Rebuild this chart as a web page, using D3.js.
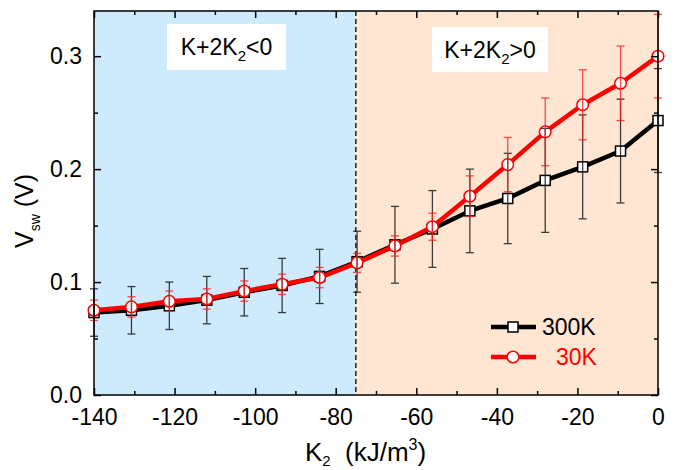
<!DOCTYPE html>
<html><head><meta charset="utf-8">
<script src="https://cdn.jsdelivr.net/npm/d3@7"></script>
<style>body{margin:0;background:#fff}svg{display:block;font-family:"Liberation Sans",Arial,sans-serif}</style>
</head><body>
<svg id="c" width="679" height="470"></svg>
<script>
const k2 = [-140, -130.7, -121.3, -112, -102.7, -93.3, -84, -74.7, -65.3, -56, -46.7, -37.3, -28, -18.7, -9.3, 0];
const v300 = [0.073, 0.075, 0.079, 0.084, 0.091, 0.097, 0.105, 0.118, 0.133, 0.147, 0.163, 0.174, 0.190, 0.202, 0.216, 0.243];
const e300 = [0.021, 0.021, 0.021, 0.021, 0.021, 0.024, 0.024, 0.027, 0.034, 0.034, 0.037, 0.040, 0.046, 0.046, 0.046, 0.046];
const v30 = [0.075, 0.078, 0.083, 0.085, 0.092, 0.098, 0.104, 0.117, 0.132, 0.149, 0.176, 0.204, 0.233, 0.257, 0.276, 0.300];
const e30 = [0.009, 0.009, 0.009, 0.009, 0.009, 0.009, 0.009, 0.0085, 0.009, 0.012, 0.018, 0.024, 0.030, 0.031, 0.033, 0.037];
const boundary = -75;
const xTicks = [-140, -120, -100, -80, -60, -40, -20, 0];
const xMinor = [-130, -110, -90, -70, -50, -30, -10];
const yTicks = [0, 0.1, 0.2, 0.3];
const yMinor = [0.05, 0.15, 0.25];
const seriesNames = ["300K", "30K"];

const svg = d3.select("#c");
const L = 94, R = 658, T = 11, B = 395;
const x = d3.scaleLinear().domain([-140, 0]).range([L, R]);
const y = d3.scaleLinear().domain([0, 0.34]).range([B, T]);

// backgrounds
svg.append("rect").attr("x", x(-140)).attr("y", T).attr("width", x(boundary) - x(-140)).attr("height", B - T).attr("fill", "#cdebfd");
svg.append("rect").attr("x", x(boundary)).attr("y", T).attr("width", x(0) - x(boundary)).attr("height", B - T).attr("fill", "#fee6d3");
svg.append("line").attr("x1", x(boundary)).attr("x2", x(boundary)).attr("y1", T).attr("y2", B)
  .attr("stroke", "#000").attr("stroke-width", 1.3).attr("stroke-dasharray", "5,3");

// region labels
function regionLabel(x0, y0, w, h, sign) {
  svg.append("rect").attr("x", x0).attr("y", y0).attr("width", w).attr("height", h).attr("fill", "#fff");
  const t = svg.append("text").attr("x", x0 + w / 2).attr("y", y0 + h / 2 + 8).attr("text-anchor", "middle")
    .attr("font-size", 23).attr("fill", "#000");
  t.append("tspan").text("K+2K");
  t.append("tspan").attr("font-size", 15).attr("dy", 6).text("2");
  t.append("tspan").attr("dy", -6).text(sign + "0");
}
regionLabel(167, 24, 119, 46, "<");
regionLabel(432, 27, 116, 45, ">");

// lines & markers
const line = d3.line().x(d => x(d[0])).y(d => y(d[1]));
const d300 = k2.map((k, i) => [k, v300[i], e300[i]]);
const d30 = k2.map((k, i) => [k, v30[i], e30[i]]);

svg.append("path").datum(d300).attr("d", line).attr("fill", "none").attr("stroke", "#000").attr("stroke-width", 4.5).attr("stroke-linejoin", "round");
svg.selectAll(".sq").data(d300).enter().append("rect")
  .attr("x", d => x(d[0]) - 5).attr("y", d => y(d[1]) - 5).attr("width", 10).attr("height", 10)
  .attr("fill", "#fff").attr("stroke", "#000").attr("stroke-width", 1.5);
svg.append("path").datum(d30).attr("d", line).attr("fill", "none").attr("stroke", "#ff0000").attr("stroke-width", 4.5).attr("stroke-linejoin", "round");
svg.selectAll(".ci").data(d30).enter().append("circle")
  .attr("cx", d => x(d[0])).attr("cy", d => y(d[1])).attr("r", 5.8)
  .attr("fill", "#fff").attr("stroke", "#ff0000").attr("stroke-width", 1.5);

// error bars
function errBars(data, color, op) {
  const g = svg.append("g").attr("stroke", color).attr("stroke-width", 1.3).attr("opacity", op);
  data.forEach(d => {
    const cx = x(d[0]), y1 = y(d[1] + d[2]), y2 = y(d[1] - d[2]);
    g.append("line").attr("x1", cx).attr("x2", cx).attr("y1", y1).attr("y2", y2);
    g.append("line").attr("x1", cx - 4).attr("x2", cx + 4).attr("y1", y1).attr("y2", y1);
    g.append("line").attr("x1", cx - 4).attr("x2", cx + 4).attr("y1", y2).attr("y2", y2);
  });
}
errBars(d300, "#111", 0.8);
errBars(d30, "#ff2020", 0.8);

// frame & ticks
svg.append("rect").attr("x", L).attr("y", T).attr("width", R - L).attr("height", B - T)
  .attr("fill", "none").attr("stroke", "#000").attr("stroke-width", 1.5);
const fmtX = d => d3.format("d")(d).replace("\u2212", "-");
svg.append("g").attr("transform", `translate(0,${B})`).call(d3.axisBottom(x).tickValues(xTicks).tickSizeInner(-7).tickSizeOuter(0).tickPadding(14).tickFormat(fmtX));
svg.append("g").attr("transform", `translate(0,${T})`).call(d3.axisTop(x).tickValues(xTicks).tickSizeInner(-7).tickSizeOuter(0).tickFormat(""));
svg.append("g").attr("transform", `translate(0,${B})`).call(d3.axisBottom(x).tickValues(xMinor).tickSizeInner(-4).tickSizeOuter(0).tickFormat(""));
svg.append("g").attr("transform", `translate(0,${T})`).call(d3.axisTop(x).tickValues(xMinor).tickSizeInner(-4).tickSizeOuter(0).tickFormat(""));
svg.append("g").attr("transform", `translate(${L},0)`).call(d3.axisLeft(y).tickValues(yTicks).tickSizeInner(-7).tickSizeOuter(0).tickPadding(12).tickFormat(d3.format(".1f")));
svg.append("g").attr("transform", `translate(${R},0)`).call(d3.axisRight(y).tickValues(yTicks).tickSizeInner(-7).tickSizeOuter(0).tickFormat(""));
svg.append("g").attr("transform", `translate(${L},0)`).call(d3.axisLeft(y).tickValues(yMinor).tickSizeInner(-4).tickSizeOuter(0).tickFormat(""));
svg.append("g").attr("transform", `translate(${R},0)`).call(d3.axisRight(y).tickValues(yMinor).tickSizeInner(-4).tickSizeOuter(0).tickFormat(""));
svg.selectAll(".domain").remove();
svg.selectAll(".tick line").attr("stroke", "#000").attr("stroke-width", 1.5);
svg.selectAll(".tick text").attr("font-size", 23).attr("fill", "#000").attr("font-family", "'Liberation Sans',Arial,sans-serif");

// axis titles
const xt = svg.append("text").attr("x", 305).attr("y", 461).attr("font-size", 26).attr("fill", "#000");
xt.append("tspan").text("K");
xt.append("tspan").attr("font-size", 15).attr("dy", 5).text("2");
xt.append("tspan").attr("x", 345).attr("dy", -5).text("(kJ/m");
xt.append("tspan").attr("font-size", 16).attr("dy", -11).text("3");
xt.append("tspan").attr("dy", 11).text(")");

const yt = svg.append("text").attr("transform", "translate(33,211) rotate(-90)").attr("text-anchor", "middle").attr("font-size", 25).attr("fill", "#000");
yt.append("tspan").text("V");
yt.append("tspan").attr("font-size", 14).attr("dy", 7).text("sw");
yt.append("tspan").attr("dy", -7).text(" (V)");

// legend
const leg = [
  {name: seriesNames[0], color: "#000", text: "#000", y: 327, tx: 542, shape: "sq"},
  {name: seriesNames[1], color: "#ff0000", text: "#ff0000", y: 357, tx: 556, shape: "ci"}
];
leg.forEach(l => {
  svg.append("line").attr("x1", 491).attr("x2", 536).attr("y1", l.y).attr("y2", l.y).attr("stroke", l.color).attr("stroke-width", 4.5);
  if (l.shape === "sq") svg.append("rect").attr("x", 508).attr("y", l.y - 5).attr("width", 10).attr("height", 10).attr("fill", "#fff").attr("stroke", "#000").attr("stroke-width", 1.5);
  else svg.append("circle").attr("cx", 513).attr("cy", l.y).attr("r", 5.8).attr("fill", "#fff").attr("stroke", "#ff0000").attr("stroke-width", 1.5);
  svg.append("text").attr("x", l.tx).attr("y", l.y + 8).attr("font-size", 23).attr("fill", l.text).text(l.name);
});
</script>
</body></html>
